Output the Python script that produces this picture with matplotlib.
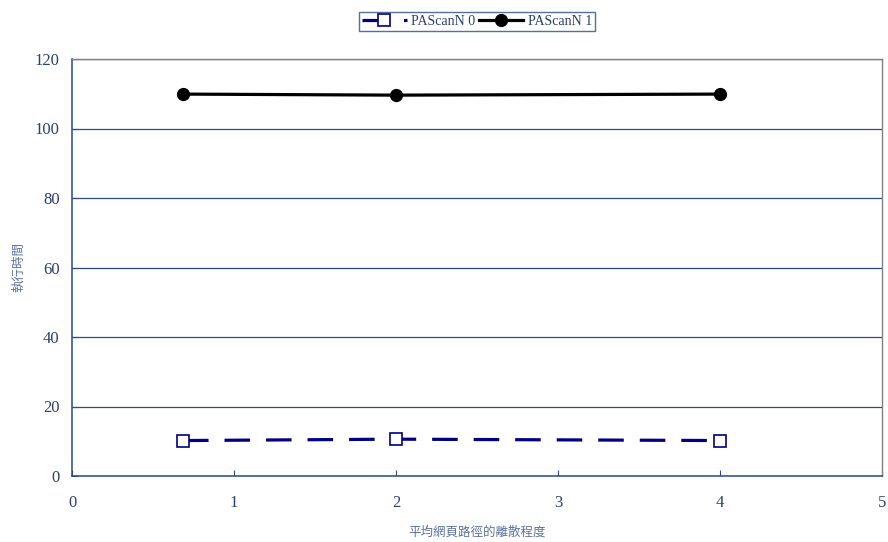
import matplotlib.pyplot as plt

plt.rcParams['font.family'] = ['Liberation Serif', 'Noto Sans CJK TC']

# 平均網頁路徑的離散程度 vs 執行時間
x = [0.685, 2, 4]
pascan_0 = [10.2, 10.6, 10.2]
pascan_1 = [109.9, 109.6, 109.9]
series_names = ['PAScanN 0', 'PAScanN 1']

axis_col = '#2B4A86'
text_col = '#2B3F6E'

fig = plt.figure(figsize=(8.88, 5.42), dpi=100)
ax = fig.add_axes([72 / 888, 66 / 542, 810 / 888, 417 / 542])

ax.plot(x, pascan_0, color='#000080', lw=2.3, ls=(0, (8, 5)),
        marker='s', ms=8, mfc='white', mec='#000080', mew=1.2,
        label=series_names[0], zorder=3)
ax.plot(x, pascan_1, color='black', lw=2.3,
        marker='o', ms=8.5, mfc='black', mec='black',
        label=series_names[1], zorder=3)

ax.set_xlim(0, 5)
ax.set_ylim(0, 120)
ax.set_xticks(range(0, 6))
ax.set_yticks(range(0, 121, 20))
ax.yaxis.grid(True, color=axis_col, lw=0.9)
ax.set_axisbelow(True)

for side in ['left', 'bottom']:
    ax.spines[side].set_color(axis_col)
    ax.spines[side].set_linewidth(1.1)
for side in ['top', 'right']:
    ax.spines[side].set_color('#808080')
    ax.spines[side].set_linewidth(1.0)

ax.tick_params(axis='both', direction='in', length=4, color=axis_col,
               labelsize=12, labelcolor=text_col)
ax.tick_params(axis='x', pad=14)
ax.tick_params(axis='y', pad=9)

ax.set_xlabel('平均網頁路徑的離散程度', family=['Noto Sans CJK TC'],
              fontsize=9, color='#5A72A0', labelpad=10)
ax.set_ylabel('執行時間', family=['Noto Sans CJK TC'],
              fontsize=9, color='#5A72A0', labelpad=7)

leg = fig.legend(loc='center', bbox_to_anchor=(477 / 888, 1 - 21.5 / 542),
                 ncol=2, fontsize=10, frameon=True, fancybox=False,
                 handlelength=3.2, handletextpad=0.3, columnspacing=0.3,
                 borderpad=0.25, borderaxespad=0)
leg.get_frame().set_edgecolor(axis_col)
leg.get_frame().set_linewidth(1.0)
for t in leg.get_texts():
    t.set_color(text_col)

fig.savefig('out.png', dpi=100)
